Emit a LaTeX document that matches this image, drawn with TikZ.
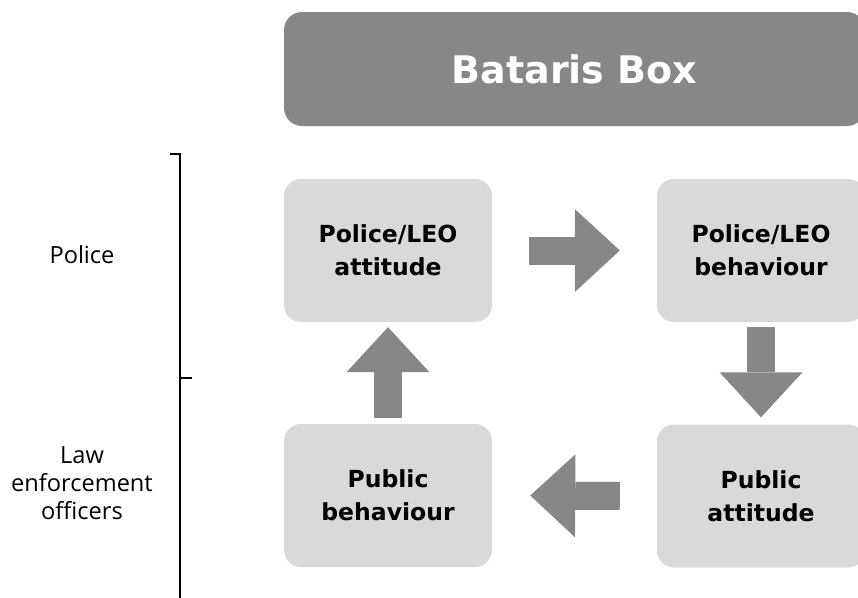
\documentclass[tikz,border=0pt]{standalone}
\usepackage{fontspec}
\setmainfont{DejaVu Sans}
\newfontfamily\labelfont{Open Sans}
\usetikzlibrary{arrows.meta}
\definecolor{titlegrey}{HTML}{878787}
\definecolor{boxgrey}{HTML}{D9D9D9}
\tikzset{
  titlebox/.style={rectangle, rounded corners=18pt, fill=titlegrey, text=white,
    minimum width=581pt, minimum height=114pt, inner sep=0pt,
    font=\bfseries\fontsize{38}{46}\selectfont},
  stagebox/.style={rectangle, rounded corners=17pt, fill=boxgrey, text=black,
    minimum width=208pt, minimum height=143pt, inner sep=0pt, align=center,
    font=\bfseries\fontsize{23.5}{33}\selectfont},
  sidelabel/.style={align=center, inner sep=0pt, text=black,
    font=\labelfont\fontsize{23.6}{28}\selectfont},
  blockarrow/.style={line width=28pt, draw=titlegrey,
    -{Triangle[length=45pt 0 0, width=83pt 0 0, line width=0pt]}},
  bracketline/.style={line width=2pt, draw=black}
}
\begin{document}
\begin{tikzpicture}[x=1pt, y=-1pt]
\useasboundingbox (0,0) rectangle (858,597);
% title
\node[titlebox] (title) at (574.5,69) {Bataris Box};
% stage boxes
\node[stagebox] (pa) at (388,250.5) {Police/LEO\\attitude};
\node[stagebox] (pb) at (761,250.5) {Police/LEO\\behaviour};
\node[stagebox] (ub) at (388,495.5) {Public\\behaviour};
\node[stagebox] (ua) at (761,496) {Public\\attitude};
% block arrows
\draw[blockarrow] ([xshift=37pt]pa.east) -- ([xshift=-37pt]pb.west);
\draw[blockarrow] ([yshift=-5pt]pb.south) -- ([yshift=7pt]ua.north);
\draw[blockarrow] ([xshift=-37pt]ua.west) -- ([xshift=38pt]ub.east);
\draw[blockarrow] ([yshift=6pt]ub.north) -- ([yshift=-5pt]pa.south);
% bracket
\coordinate (btick) at (170,154);
\coordinate (btop) at (180,154);
\coordinate (bmid) at (180,378);
\coordinate (bmidtick) at (192,378);
\coordinate (bbot) at (180,600);
\draw[bracketline] (btick) -- (btop) -- (bbot);
\draw[bracketline] (bmid) -- (bmidtick);
% side labels
\node[sidelabel, anchor=base] (police) at (82,263) {Police};
\node[sidelabel] (leo) at (82,483) {Law\\enforcement\\officers};
\end{tikzpicture}
\end{document}
